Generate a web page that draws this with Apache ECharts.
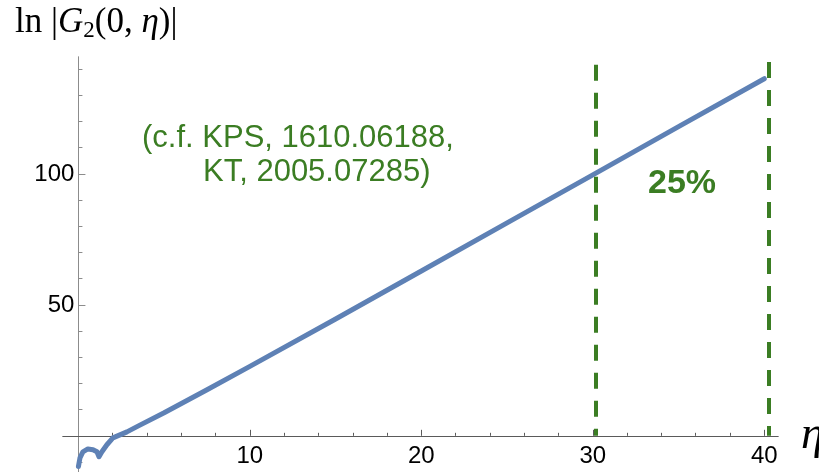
<!DOCTYPE html>
<html><head><meta charset="utf-8">
<script src="https://cdn.jsdelivr.net/npm/echarts@6/dist/echarts.min.js"></script>
<style>html,body{margin:0;padding:0;background:#fff}#c{width:819px;height:472px}</style>
</head><body><div id="c"></div>
<script>
// data
const etaValues  = [0, 0.09, 0.26, 0.55, 0.85, 1.08, 1.2, 1.37, 1.66, 2.01, 2.83, 3.5, 5, 7.5, 10, 15, 20, 25, 30, 35, 40];
const lnG2Values = [-11.7, -8.4, -6.1, -5.0, -5.3, -6.1, -8.0, -6.1, -3.4, -0.8, 1.5, 3.8, 8.8, 17.6, 26.5, 44.6, 62.9, 81.3, 99.6, 118, 136.3];
const xLabelTicks = [10, 20, 30, 40];
const xMinorTicks = [2, 4, 6, 8, 12, 14, 16, 18, 22, 24, 26, 28, 32, 34, 36, 38];
const yLabelTicks = [50, 100];
const yMinorTicks = [-10, 10, 20, 30, 40, 60, 70, 80, 90, 110, 120, 130, 140];
const markerEtas = [30.15, 40.25];
const markerTops = [141.6, 142.7];
const noteLines = ['(c.f. KPS, 1610.06188,', 'KT, 2005.07285)'];
const percentText = '25%';

const green = '#3b7d23';
const blue = '#5e81b5';
const xAxisColor = '#5a5a5a';
const yAxisColor = '#8c8c8c';
const labelFont = {fontSize: 24, fontFamily: 'Liberation Sans', color: '#000'};

const chart = echarts.init(document.getElementById('c'), null, {renderer: 'canvas'});

const X_MIN = -0.9, X_MAX = 40.8, Y_MIN = -14, Y_MAX = 144.6;

chart.setOption({
  animation: false,
  backgroundColor: '#fff',
  grid: [
    // main plotting grid (axes cross at the origin inside it)
    {left: 63, width: 715, top: 57, height: 415.5, show: false, outerBoundsMode: 'none'},
    // label grid: its lower-left corner is the origin, so labels sit next to the axis lines
    {left: 78.4, width: 699.6, top: 57, height: 379, show: false, outerBoundsMode: 'none'}
  ],
  xAxis: [
    {
      gridIndex: 0, type: 'value', min: X_MIN, max: X_MAX, position: 'bottom',
      axisLine: {onZero: true, onZeroAxisIndex: 0, lineStyle: {color: xAxisColor, width: 1}},
      axisTick: {inside: true, length: 6, customValues: xLabelTicks, lineStyle: {color: xAxisColor}},
      axisLabel: {show: false}, splitLine: {show: false}
    },
    {
      gridIndex: 0, type: 'value', min: X_MIN, max: X_MAX, position: 'bottom',
      axisLine: {onZero: true, onZeroAxisIndex: 0, lineStyle: {color: xAxisColor, width: 1}},
      axisTick: {inside: true, length: 3, customValues: xMinorTicks, lineStyle: {color: xAxisColor}},
      axisLabel: {show: false}, splitLine: {show: false}
    },
    {
      gridIndex: 1, type: 'value', min: 0, max: X_MAX, position: 'bottom',
      axisLine: {show: false, onZero: false}, axisTick: {show: false}, splitLine: {show: false},
      axisLabel: Object.assign({customValues: xLabelTicks, margin: 8}, labelFont),
      name: 'η', nameLocation: 'end', nameGap: 23,
      nameTextStyle: {fontFamily: 'Liberation Serif', fontStyle: 'italic', fontSize: 46, color: '#000', align: 'left', verticalAlign: 'middle'}
    }
  ],
  yAxis: [
    {
      gridIndex: 0, type: 'value', min: Y_MIN, max: Y_MAX, position: 'left',
      axisLine: {onZero: true, onZeroAxisIndex: 0, lineStyle: {color: yAxisColor, width: 1}},
      axisTick: {inside: true, length: 7, customValues: yLabelTicks, lineStyle: {color: yAxisColor}},
      axisLabel: {show: false}, splitLine: {show: false}
    },
    {
      gridIndex: 0, type: 'value', min: Y_MIN, max: Y_MAX, position: 'left',
      axisLine: {onZero: true, onZeroAxisIndex: 0, lineStyle: {color: yAxisColor, width: 1}},
      axisTick: {inside: true, length: 4, customValues: yMinorTicks, lineStyle: {color: yAxisColor}},
      axisLabel: {show: false}, splitLine: {show: false}
    },
    {
      gridIndex: 1, type: 'value', min: 0, max: Y_MAX, position: 'left',
      axisLine: {show: false, onZero: false}, axisTick: {show: false}, splitLine: {show: false},
      axisLabel: Object.assign({customValues: yLabelTicks, margin: 4}, labelFont)
    }
  ],
  series: [{
    type: 'line',
    xAxisIndex: 0, yAxisIndex: 0,
    data: etaValues.map((x, i) => [x, lnG2Values[i]]),
    showSymbol: false,
    symbol: 'none',
    lineStyle: {color: blue, width: 5, cap: 'round', join: 'round'},
    clip: false,
    z: 3,
    markLine: {
      silent: true,
      symbol: ['none', 'none'],
      label: {show: false},
      lineStyle: {color: green, width: 4, type: [16, 12]},
      data: markerEtas.map((x, i) => [{coord: [x, markerTops[i]]}, {coord: [x, 0]}])
    }
  }],
  graphic: [
    {
      type: 'text', x: 15, y: 4,
      style: {
        text: '{r|ln |}{i|G}{s|2}{r|(0, }{i|η}{r|)|}',
        align: 'left', verticalAlign: 'top',
        rich: {
          r: {fontFamily: 'Liberation Serif', fontSize: 35, lineHeight: 38, fill: '#000', color: '#000'},
          i: {fontFamily: 'Liberation Serif', fontStyle: 'italic', fontSize: 35, lineHeight: 38, fill: '#000', color: '#000'},
          s: {fontFamily: 'Liberation Serif', fontSize: 23, lineHeight: 26, verticalAlign: 'bottom', fill: '#000', color: '#000'}
        }
      }
    },
    {
      type: 'text', x: 142, y: 138,
      style: {text: noteLines[0], fontFamily: 'Liberation Sans', fontSize: 31, fill: green, align: 'left', verticalAlign: 'middle'}
    },
    {
      type: 'text', x: 203, y: 172,
      style: {text: noteLines[1], fontFamily: 'Liberation Sans', fontSize: 31, fill: green, align: 'left', verticalAlign: 'middle'}
    },
    {
      type: 'text', x: 682, y: 184,
      style: {text: percentText, fontFamily: 'Liberation Sans', fontWeight: 'bold', fontSize: 34, fill: green, align: 'center', verticalAlign: 'middle'}
    }
  ]
});
</script>
</body></html>
